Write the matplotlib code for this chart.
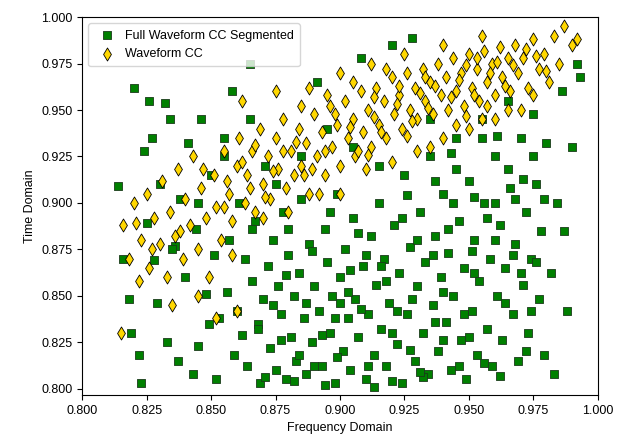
import numpy as np
import matplotlib
matplotlib.use("Agg")
from matplotlib import pyplot as plt

plt.rcParams['font.family'] = ['Liberation Sans', 'DejaVu Sans']

# points (frequency domain, time domain)
green_pts = [
    (0.814, 0.909), (0.816, 0.870), (0.818, 0.848), (0.819, 0.830), (0.820, 0.962), (0.822, 0.818),
    (0.823, 0.803), (0.824, 0.928), (0.825, 0.889), (0.826, 0.955), (0.827, 0.935), (0.828, 0.869),
    (0.829, 0.846), (0.830, 0.910), (0.832, 0.954), (0.833, 0.825), (0.834, 0.945), (0.836, 0.877),
    (0.837, 0.815), (0.838, 0.902), (0.840, 0.860), (0.841, 0.932), (0.843, 0.808), (0.844, 0.886),
    (0.845, 0.823), (0.846, 0.945), (0.848, 0.851), (0.849, 0.835), (0.850, 0.915), (0.851, 0.872),
    (0.852, 0.805), (0.853, 0.838), (0.855, 0.935), (0.856, 0.852), (0.857, 0.880), (0.858, 0.960),
    (0.859, 0.818), (0.860, 0.842), (0.861, 0.900), (0.862, 0.829), (0.863, 0.870), (0.864, 0.812),
    (0.865, 0.975), (0.866, 0.858), (0.867, 0.890), (0.868, 0.835), (0.869, 0.803), (0.870, 0.848),
    (0.871, 0.920), (0.872, 0.866), (0.873, 0.822), (0.874, 0.880), (0.875, 0.810), (0.876, 0.855),
    (0.877, 0.840), (0.878, 0.895), (0.879, 0.805), (0.880, 0.872), (0.881, 0.828), (0.882, 0.850),
    (0.883, 0.815), (0.884, 0.862), (0.885, 0.902), (0.886, 0.838), (0.887, 0.808), (0.888, 0.878),
    (0.889, 0.825), (0.890, 0.855), (0.891, 0.965), (0.892, 0.842), (0.893, 0.812), (0.894, 0.886),
    (0.895, 0.868), (0.896, 0.830), (0.897, 0.850), (0.898, 0.803), (0.899, 0.905), (0.900, 0.860),
    (0.901, 0.820), (0.902, 0.875), (0.903, 0.838), (0.904, 0.810), (0.905, 0.892), (0.906, 0.848),
    (0.907, 0.828), (0.908, 0.978), (0.909, 0.866), (0.910, 0.805), (0.911, 0.840), (0.912, 0.882),
    (0.913, 0.818), (0.914, 0.856), (0.915, 0.900), (0.916, 0.832), (0.917, 0.870), (0.918, 0.812),
    (0.919, 0.846), (0.920, 0.985), (0.921, 0.888), (0.922, 0.824), (0.923, 0.862), (0.924, 0.803),
    (0.925, 0.915), (0.926, 0.840), (0.927, 0.876), (0.928, 0.989), (0.929, 0.815), (0.930, 0.855),
    (0.931, 0.895), (0.932, 0.830), (0.933, 0.868), (0.934, 0.808), (0.935, 0.925), (0.936, 0.845),
    (0.937, 0.882), (0.938, 0.820), (0.939, 0.860), (0.940, 0.905), (0.941, 0.836), (0.942, 0.873),
    (0.943, 0.810), (0.944, 0.850), (0.945, 0.935), (0.946, 0.890), (0.947, 0.826), (0.948, 0.865),
    (0.949, 0.805), (0.950, 0.912), (0.951, 0.842), (0.952, 0.880), (0.953, 0.818), (0.954, 0.858),
    (0.955, 0.945), (0.956, 0.900), (0.957, 0.832), (0.958, 0.870), (0.959, 0.812), (0.960, 0.925),
    (0.961, 0.850), (0.962, 0.888), (0.963, 0.826), (0.964, 0.865), (0.965, 0.955), (0.966, 0.908),
    (0.967, 0.840), (0.968, 0.878), (0.969, 0.815), (0.970, 0.935), (0.971, 0.856), (0.972, 0.895),
    (0.973, 0.830), (0.974, 0.870), (0.975, 0.948), (0.976, 0.910), (0.977, 0.848), (0.978, 0.885),
    (0.979, 0.818), (0.980, 0.932), (0.982, 0.862), (0.984, 0.900), (0.986, 0.960), (0.988, 0.842),
    (0.990, 0.930), (0.992, 0.975), (0.993, 0.968), (0.983, 0.808), (0.987, 0.885),
    (0.868, 0.832), (0.874, 0.845), (0.879, 0.861), (0.884, 0.818), (0.889, 0.874), (0.894, 0.802),
    (0.898, 0.838), (0.903, 0.852), (0.907, 0.884), (0.911, 0.812), (0.916, 0.866), (0.920, 0.830),
    (0.924, 0.892), (0.928, 0.848), (0.932, 0.806), (0.936, 0.872), (0.940, 0.826), (0.944, 0.900),
    (0.948, 0.840), (0.952, 0.862), (0.956, 0.814), (0.960, 0.880), (0.964, 0.846), (0.968, 0.902),
    (0.972, 0.820), (0.976, 0.868), (0.880, 0.886), (0.890, 0.812), (0.900, 0.846), (0.910, 0.872),
    (0.920, 0.804), (0.930, 0.880), (0.940, 0.852), (0.950, 0.828), (0.960, 0.900), (0.970, 0.862),
    (0.915, 0.920), (0.935, 0.945), (0.945, 0.918), (0.955, 0.935), (0.965, 0.918), (0.975, 0.925),
    (0.905, 0.930), (0.895, 0.940), (0.885, 0.925), (0.875, 0.910), (0.865, 0.945), (0.855, 0.925),
    (0.845, 0.900), (0.835, 0.875),
    (0.871, 0.806), (0.877, 0.826), (0.882, 0.804), (0.887, 0.846), (0.893, 0.829), (0.899, 0.817),
    (0.904, 0.864), (0.908, 0.843), (0.913, 0.801), (0.918, 0.858), (0.922, 0.842), (0.927, 0.821),
    (0.931, 0.809), (0.937, 0.836), (0.942, 0.886), (0.946, 0.812), (0.951, 0.874), (0.957, 0.892),
    (0.962, 0.807), (0.967, 0.872), (0.974, 0.842), (0.979, 0.902), (0.937, 0.912), (0.952, 0.903),
    (0.961, 0.936), (0.971, 0.913), (0.943, 0.927), (0.926, 0.904), (0.896, 0.895), (0.866, 0.886),
]

yellow_pts = [
    (0.815, 0.830), (0.816, 0.888), (0.818, 0.870), (0.820, 0.900), (0.822, 0.858), (0.823, 0.880),
    (0.825, 0.905), (0.826, 0.865), (0.828, 0.892), (0.830, 0.878), (0.831, 0.912), (0.833, 0.860),
    (0.834, 0.895), (0.836, 0.882), (0.837, 0.918), (0.839, 0.870), (0.840, 0.902), (0.842, 0.888),
    (0.843, 0.925), (0.845, 0.875), (0.846, 0.908), (0.848, 0.892), (0.849, 0.860), (0.851, 0.915),
    (0.852, 0.898), (0.854, 0.880), (0.855, 0.928), (0.857, 0.905), (0.858, 0.890), (0.860, 0.920),
    (0.861, 0.935), (0.863, 0.900), (0.864, 0.915), (0.866, 0.928), (0.867, 0.895), (0.869, 0.940),
    (0.870, 0.910), (0.872, 0.925), (0.873, 0.902), (0.875, 0.935), (0.876, 0.918), (0.878, 0.945),
    (0.879, 0.908), (0.881, 0.928), (0.882, 0.915), (0.884, 0.940), (0.885, 0.920), (0.887, 0.932),
    (0.888, 0.905), (0.890, 0.948), (0.891, 0.925), (0.893, 0.938), (0.894, 0.915), (0.896, 0.952),
    (0.897, 0.930), (0.899, 0.942), (0.900, 0.920), (0.902, 0.955), (0.903, 0.935), (0.905, 0.945),
    (0.906, 0.925), (0.908, 0.960), (0.909, 0.938), (0.911, 0.950), (0.912, 0.930), (0.914, 0.962),
    (0.915, 0.942), (0.917, 0.955), (0.918, 0.935), (0.920, 0.968), (0.921, 0.948), (0.923, 0.958),
    (0.924, 0.940), (0.926, 0.970), (0.927, 0.950), (0.929, 0.962), (0.930, 0.945), (0.932, 0.972),
    (0.933, 0.955), (0.935, 0.965), (0.936, 0.948), (0.938, 0.975), (0.939, 0.958), (0.941, 0.968),
    (0.942, 0.950), (0.944, 0.978), (0.945, 0.960), (0.947, 0.970), (0.948, 0.952), (0.950, 0.980),
    (0.951, 0.962), (0.953, 0.972), (0.954, 0.955), (0.956, 0.982), (0.957, 0.965), (0.959, 0.975),
    (0.960, 0.958), (0.962, 0.984), (0.963, 0.968), (0.965, 0.978), (0.966, 0.960), (0.968, 0.985),
    (0.969, 0.970), (0.971, 0.978), (0.973, 0.962), (0.975, 0.988), (0.977, 0.972), (0.979, 0.980),
    (0.981, 0.965), (0.983, 0.990), (0.985, 0.975), (0.987, 0.995), (0.990, 0.985), (0.992, 0.988),
    (0.845, 0.850), (0.858, 0.872), (0.870, 0.892), (0.880, 0.895), (0.892, 0.905), (0.900, 0.905),
    (0.910, 0.918), (0.920, 0.922), (0.930, 0.928), (0.940, 0.935), (0.950, 0.940), (0.960, 0.945),
    (0.970, 0.950), (0.862, 0.955), (0.875, 0.960), (0.888, 0.962), (0.900, 0.970), (0.912, 0.975),
    (0.925, 0.980), (0.940, 0.985), (0.955, 0.990), (0.860, 0.842), (0.852, 0.838), (0.835, 0.845),
    (0.905, 0.965), (0.918, 0.972), (0.935, 0.930), (0.945, 0.942), (0.955, 0.945), (0.965, 0.950),
    (0.975, 0.958), (0.895, 0.958), (0.885, 0.952), (0.878, 0.928), (0.865, 0.908), (0.855, 0.898),
    (0.862, 0.922), (0.867, 0.931), (0.874, 0.917), (0.883, 0.933), (0.889, 0.918), (0.898, 0.948),
    (0.904, 0.941), (0.907, 0.928), (0.913, 0.946), (0.916, 0.938), (0.922, 0.953), (0.928, 0.944),
    (0.931, 0.959), (0.934, 0.951), (0.937, 0.963), (0.943, 0.957), (0.946, 0.966), (0.949, 0.974),
    (0.952, 0.958), (0.958, 0.970), (0.961, 0.976), (0.964, 0.963), (0.967, 0.974), (0.972, 0.983),
    (0.976, 0.979), (0.980, 0.971), (0.957, 0.952), (0.949, 0.947), (0.926, 0.936), (0.911, 0.926),
    (0.894, 0.928), (0.886, 0.915), (0.871, 0.903), (0.856, 0.912), (0.847, 0.918), (0.838, 0.885),
    (0.827, 0.875), (0.821, 0.889), (0.913, 0.957), (0.923, 0.963), (0.933, 0.968), (0.953, 0.978),
]

green = np.array(green_pts)
yellow = np.array(yellow_pts)

fig = plt.figure(figsize=(6.32, 4.4), dpi=100)
ax = fig.add_subplot(111)
fig.subplots_adjust(left=0.13, right=0.946, top=0.961, bottom=0.102)

ax.scatter(green[:, 0], green[:, 1], marker='s', s=36, c='green', edgecolors='#1a3a1a',
           linewidths=0.6, label='Full Waveform CC Segmented')
ax.scatter(yellow[:, 0], yellow[:, 1], marker='d', s=44, c='gold', edgecolors='black',
           linewidths=0.6, label='Waveform CC')

ax.set_xlim(0.8, 1.0)
ax.set_ylim(0.7965, 1.0)
ax.set_xticks(np.arange(0.8, 1.0001, 0.025))
ax.set_yticks(np.arange(0.8, 1.0001, 0.025))
ax.xaxis.set_major_formatter(matplotlib.ticker.FormatStrFormatter('%.3f'))
ax.yaxis.set_major_formatter(matplotlib.ticker.FormatStrFormatter('%.3f'))
ax.tick_params(labelsize=9)
ax.set_xlabel('Frequency Domain', fontsize=9)
ax.set_ylabel('Time Domain', fontsize=9)
ax.legend(loc='upper left', fontsize=9, borderpad=0.5, handletextpad=0.4)

plt.savefig('out.png', dpi=100)
